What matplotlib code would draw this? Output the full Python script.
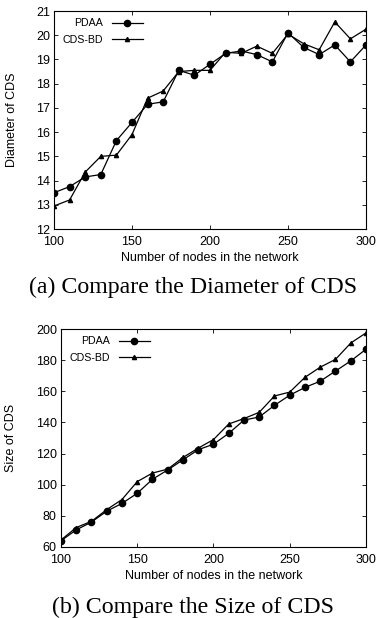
import numpy as np
import matplotlib.pyplot as plt

nodes = np.arange(100, 301, 10)

diam_pdaa = [13.5, 13.75, 14.15, 14.25, 15.65, 16.4, 17.15, 17.25, 18.55, 18.35, 18.8,
             19.25, 19.35, 19.2, 18.9, 20.1, 19.5, 19.2, 19.6, 18.9, 19.6]
diam_cdsbd = [12.95, 13.2, 14.35, 15.0, 15.05, 15.9, 17.4, 17.7, 18.5, 18.55, 18.55,
              19.3, 19.25, 19.55, 19.25, 20.05, 19.65, 19.4, 20.55, 19.85, 20.25]

size_pdaa = [64, 71, 76, 83, 88, 94.5, 103.5, 109.5, 116, 122.5, 126,
             133, 141.5, 143.5, 151, 157.5, 162.5, 166.5, 173, 179.5, 187]
size_cdsbd = [64.5, 72.5, 76.5, 84, 90.5, 102, 107.5, 110, 117.5, 123.5, 129,
              139, 142.5, 146.5, 157, 159.5, 169, 175.5, 180.5, 191, 197.5]

plt.rcParams['font.family'] = ['Liberation Sans', 'DejaVu Sans']
fs = 9

fig = plt.figure(figsize=(3.76, 6.18), dpi=100)
ax1 = fig.add_axes([0.1436, 0.6294, 0.8298, 0.3528])
ax2 = fig.add_axes([0.1622, 0.1149, 0.8112, 0.3527])


def style(ax, ylim, yticks, ylabel, ylab_x):
    ax.set_xlim(100, 300)
    ax.set_ylim(*ylim)
    ax.set_xticks([100, 150, 200, 250, 300])
    ax.set_yticks(yticks)
    ax.tick_params(direction='in', top=True, right=True, length=3, width=0.6, labelsize=fs)
    ax.tick_params(axis='x', pad=5)
    ax.tick_params(axis='y', pad=3)
    for s in ax.spines.values():
        s.set_linewidth(0.8)
    ax.set_xlabel("Number of nodes in the network", fontsize=fs, labelpad=3)
    ax.set_ylabel(ylabel, fontsize=fs)
    ax.yaxis.set_label_coords(ylab_x, 0.5)
    ax.legend(loc='upper left', frameon=False, markerfirst=False, fontsize=fs * 0.85,
              handlelength=2.9, borderaxespad=0.3, labelspacing=0.6, alignment='right',
              bbox_to_anchor=(0.005, 1.0))


ax1.plot(nodes, diam_pdaa, color='black', marker='o', markersize=4.5, linewidth=0.9, label='PDAA')
ax1.plot(nodes, diam_cdsbd, color='black', marker='^', markersize=3, linewidth=0.9, label='CDS-BD')
style(ax1, (12, 21), range(12, 22), "Diameter of CDS", -0.115)

ax2.plot(nodes, size_pdaa, color='black', marker='o', markersize=4.5, linewidth=0.9, label='PDAA')
ax2.plot(nodes, size_cdsbd, color='black', marker='^', markersize=3, linewidth=0.9, label='CDS-BD')
style(ax2, (60, 200), range(60, 201, 20), "Size of CDS", -0.144)

fig.text(0.513, 1 - 292.5 / 618, "(a) Compare the Diameter of CDS", ha='center', va='baseline',
         fontsize=17.2, family=['Liberation Serif'])
fig.text(0.513, 1 - 612.5 / 618, "(b) Compare the Size of CDS", ha='center', va='baseline',
         fontsize=17.2, family=['Liberation Serif'])

fig.savefig("out.png", dpi=100)
